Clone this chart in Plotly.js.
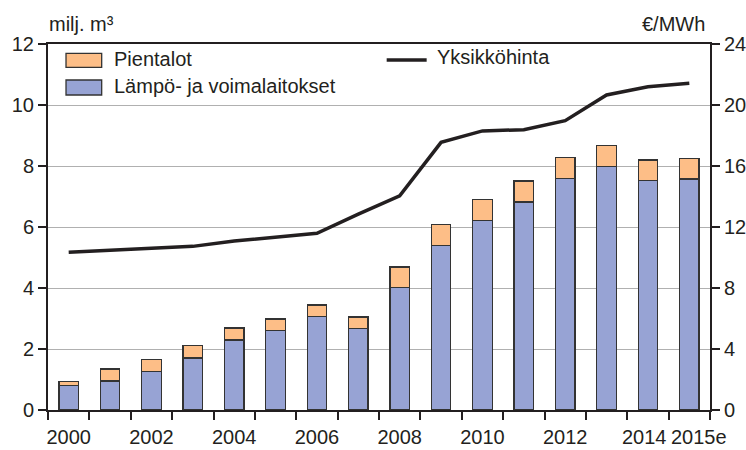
<!DOCTYPE html>
<html>
<head>
<meta charset="utf-8">
<script src="https://cdn.plot.ly/plotly-3.0.1.min.js"></script>
<style>html,body{margin:0;padding:0;background:#fff;}#chart{width:746px;height:450px;}</style>
</head>
<body>
<div id="chart"></div>
<script>
const years = ['2000','2001','2002','2003','2004','2005','2006','2007','2008','2009','2010','2011','2012','2013','2014','2015e'];
const tickLabels = ['2000','','2002','','2004','','2006','','2008','','2010','','2012','','',''];
const lampoJaVoimalaitokset = [0.80,0.95,1.27,1.71,2.30,2.61,3.06,2.67,4.01,5.40,6.22,6.82,7.60,7.99,7.53,7.57];
const pientalot = [0.14,0.39,0.38,0.40,0.39,0.37,0.38,0.38,0.68,0.68,0.68,0.69,0.67,0.69,0.67,0.68];
const yksikkohinta = [10.34,10.47,10.62,10.73,11.08,11.36,11.59,12.85,14.05,17.55,18.30,18.38,18.97,20.66,21.20,21.42];
const leftTicks = [0,2,4,6,8,10,12];
const rightTicks = [0,4,8,12,16,20,24];
const seriesNames = ['Pientalot','Lämpö- ja voimalaitokset','Yksikköhinta'];

const txt = '#231f20';
const blue = '#97a3d4', orange = '#fdbe87', edge = '#333333';
const font = {family: 'Liberation Sans, Arial, sans-serif', size: 20, color: txt};

const traces = [
  {type:'bar', name:seriesNames[1], x: years, y: lampoJaVoimalaitokset,
   marker:{color:blue, line:{color:edge, width:1.3}}, showlegend:false},
  {type:'bar', name:seriesNames[0], x: years, y: pientalot,
   marker:{color:orange, line:{color:edge, width:1.3}}, showlegend:false},
  {type:'scatter', mode:'lines', name:seriesNames[2], x: years, y: yksikkohinta, yaxis:'y2',
   line:{color:txt, width:3.5}, showlegend:false}
];

// legend key drawn in paper coordinates
const keyShapes = [
  {type:'rect', xref:'paper', yref:'paper', x0:0.0272, x1:0.0811, y0:0.9363, y1:0.9746,
   fillcolor:orange, line:{color:edge, width:1.3}},
  {type:'rect', xref:'paper', yref:'paper', x0:0.0272, x1:0.0811, y0:0.8607, y1:0.9016,
   fillcolor:blue, line:{color:edge, width:1.3}},
  {type:'line', xref:'paper', yref:'paper', x0:0.5116, x1:0.5720, y0:0.9563, y1:0.9563,
   line:{color:txt, width:3.5}}
];

const layout = {
  width:746, height:450,
  margin:{l:48, r:36, t:44, b:40},
  paper_bgcolor:'#fff', plot_bgcolor:'#fff',
  font: font,
  barmode:'stack', bargap:0.53,
  showlegend:false,
  xaxis:{type:'category', range:[-0.5, years.length - 0.5], autorange:false,
    tickmode:'array', tickvals: years, ticktext: tickLabels, tickangle:0,
    tickson:'boundaries', ticks:'outside', ticklen:8, tickwidth:2, tickcolor:txt,
    ticklabelstandoff:8,
    showline:true, linecolor:txt, linewidth:2, mirror:true, showgrid:false,
    tickfont: font},
  yaxis:{range:[0,12], tickmode:'array', tickvals:leftTicks, ticks:'outside', ticklen:8, tickwidth:2,
    tickcolor:txt, showline:true, linecolor:txt, linewidth:2,
    showgrid:true, gridcolor:'#b0b0b0', gridwidth:1, zeroline:false, tickfont:font},
  yaxis2:{range:[0,24], overlaying:'y', side:'right', tickmode:'array', tickvals:rightTicks,
    ticks:'outside', ticklen:8, tickwidth:2, tickcolor:txt, showline:true,
    linecolor:txt, linewidth:2, showgrid:false, zeroline:false, tickfont:font},
  shapes: keyShapes,
  annotations:[
    {text:seriesNames[0], xref:'paper', yref:'paper', x:0.0962, y:0.9563, xanchor:'left', yanchor:'middle',
     yshift:1, showarrow:false, font:font},
    {text:seriesNames[1], xref:'paper', yref:'paper', x:0.0962, y:0.8825, xanchor:'left', yanchor:'middle',
     yshift:1, showarrow:false, font:font},
    {text:seriesNames[2], xref:'paper', yref:'paper', x:0.5846, y:0.9617, xanchor:'left', yanchor:'middle',
     yshift:1, showarrow:false, font:font},
    {text:years[14], xref:'x', yref:'paper', x:14, y:0, xanchor:'center', yanchor:'middle',
     xshift:-3, yshift:-26.5, showarrow:false, font:font},
    {text:years[15], xref:'x', yref:'paper', x:15, y:0, xanchor:'center', yanchor:'middle',
     xshift:10, yshift:-26.5, showarrow:false, font:font},
    {text:'milj. m³', xref:'paper', yref:'paper', x:0, y:1.0546, xanchor:'left', yanchor:'middle',
     xshift:-1, showarrow:false, font:font},
    {text:'€/MWh', xref:'paper', yref:'paper', x:1.0, y:1.0546, xanchor:'right', yanchor:'middle',
     xshift:-3, showarrow:false, font:font}
  ]
};

Plotly.newPlot('chart', traces, layout, {displayModeBar:false, staticPlot:true});
</script>
</body>
</html>
